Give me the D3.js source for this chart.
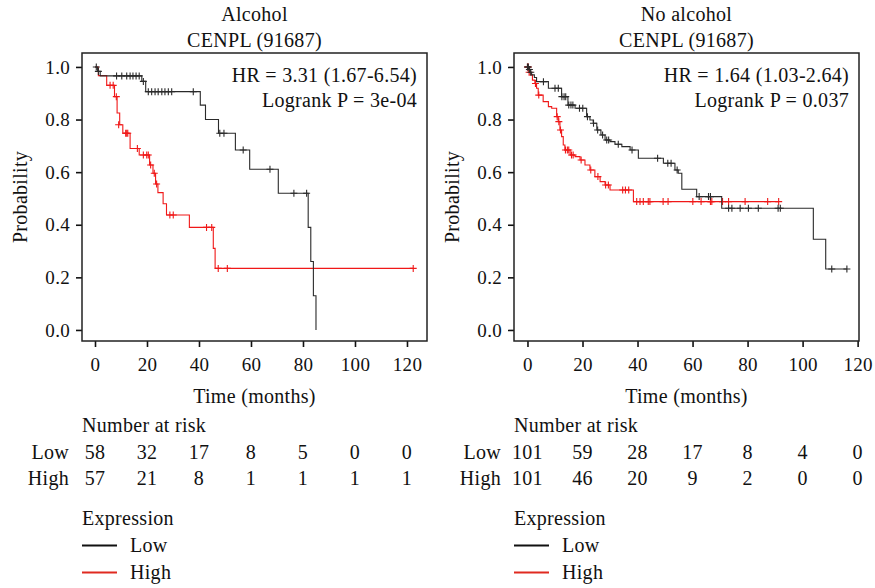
<!DOCTYPE html>
<html>
<head>
<meta charset="utf-8">
<script src="https://cdn.jsdelivr.net/npm/d3@7"></script>
<style>
  body { margin: 0; background: #fff; }
  svg text { font-family: "Liberation Serif", "DejaVu Serif", serif; fill: #111; letter-spacing: 0.3px; }
</style>
</head>
<body>
<div id="chart"></div>
<script>
// ---- data ----
let xTicks = [0, 20, 40, 60, 80, 100, 120];
let yTicks = [0, 0.2, 0.4, 0.6, 0.8, 1.0];

// Alcohol, low expression: [time, survival]
let alcLowSteps = [[0, 1], [1, 0.983], [2, 0.966], [18, 0.945], [19.5, 0.906], [40.5, 0.855], [42.5, 0.80],
    [47.5, 0.748], [54, 0.684], [59.5, 0.611], [70.5, 0.52], [82, 0.39], [83, 0.26], [84, 0.13], [85, 0]];
let alcLowCens = [[0.5, 1], [1.3, 0.983], [8.3, 0.966], [10.3, 0.966], [12.2, 0.966], [13.5, 0.966], [14.6, 0.966],
    [15.8, 0.966], [17, 0.966], [18.6, 0.945], [20.5, 0.906], [21.8, 0.906], [23.1, 0.906], [24.3, 0.906],
    [25.7, 0.906], [26.9, 0.906], [28.2, 0.906], [29.5, 0.906], [37.8, 0.906], [48, 0.748], [49.6, 0.748],
    [57, 0.684], [67.3, 0.611], [76.5, 0.52], [81.4, 0.52]];

// Alcohol, high expression
let alcHighSteps = [[0, 1], [1.3, 0.967], [4.5, 0.93], [7.5, 0.887], [8.5, 0.825], [9.5, 0.78], [10.7, 0.748],
    [13.5, 0.69], [17, 0.665], [21, 0.627], [22.3, 0.596], [23.3, 0.555], [24.2, 0.522], [26.2, 0.48],
    [27.5, 0.437], [36.3, 0.39], [45.5, 0.31], [46.2, 0.234], [122.4, 0.234]];
let alcHighCens = [[5.8, 0.93], [7, 0.93], [8.2, 0.887], [9.1, 0.78], [11.8, 0.748], [12.2, 0.748], [12.6, 0.748],
    [16.3, 0.69], [18.6, 0.665], [19.9, 0.665], [20.5, 0.665], [21.4, 0.627], [22.8, 0.596], [23.7, 0.555],
    [28.8, 0.437], [30.1, 0.437], [42.9, 0.39], [44.9, 0.39], [47.4, 0.234], [50.9, 0.234], [122.4, 0.234]];

// No alcohol, low expression
let noLowSteps = [[0, 1], [0.5, 0.99], [1, 0.98], [1.5, 0.97], [2.5, 0.96], [3.3, 0.944], [7.6, 0.919],
    [12.4, 0.887], [14.7, 0.855], [17.3, 0.843], [21.5, 0.811], [22.7, 0.798], [23.9, 0.786], [25.2, 0.76],
    [26.7, 0.741], [28.2, 0.722], [30, 0.716], [31.8, 0.706], [34.3, 0.697], [37.3, 0.684], [40.3, 0.653],
    [49.4, 0.634], [53.6, 0.608], [54.8, 0.596], [56.1, 0.535], [61.5, 0.507], [70.6, 0.463],
    [103.9, 0.345], [108.4, 0.232], [116.1, 0.232]];
let noLowCens = [[0, 1], [0.3, 1], [0.7, 0.99], [1.2, 0.98], [5.8, 0.944], [10, 0.919], [11.2, 0.919],
    [12.5, 0.887], [13.3, 0.887], [13.9, 0.887], [15, 0.855], [15.8, 0.855], [16.5, 0.855], [18.9, 0.843],
    [20.1, 0.843], [21.8, 0.811], [24, 0.786], [25.5, 0.76], [27.3, 0.741], [28.8, 0.722], [29.5, 0.722],
    [33, 0.706], [38, 0.684], [47.3, 0.653], [51, 0.634], [52.2, 0.634], [54.4, 0.608], [62.4, 0.507],
    [65.8, 0.507], [66.5, 0.507], [73.1, 0.463], [74.3, 0.463], [77.3, 0.463], [80.3, 0.463], [83.9, 0.463],
    [91.1, 0.463], [91.9, 0.463], [110.6, 0.232], [116.1, 0.232]];

// No alcohol, high expression
let noHighSteps = [[0, 1], [0.5, 0.98], [1, 0.97], [1.8, 0.95], [2.7, 0.937], [3.3, 0.919], [3.9, 0.893],
    [5.7, 0.868], [7.6, 0.849], [8.8, 0.843], [10.6, 0.811], [11.2, 0.792], [11.8, 0.76], [12.4, 0.735],
    [13, 0.703], [13.6, 0.684], [15.5, 0.665], [17.3, 0.659], [19.1, 0.646], [20.9, 0.627], [22.7, 0.608],
    [24.5, 0.583], [26.4, 0.564], [28.2, 0.551], [30, 0.532], [38.5, 0.488], [91.3, 0.488]];
let noHighCens = [[0, 1], [0.3, 1], [0.6, 0.98], [2.9, 0.937], [4.1, 0.893], [10.8, 0.811], [11.4, 0.792],
    [12, 0.76], [13.8, 0.684], [14.5, 0.684], [15, 0.684], [16, 0.665], [16.6, 0.665], [19.5, 0.646],
    [23, 0.608], [25.6, 0.583], [28.4, 0.551], [29.4, 0.551], [34.6, 0.532], [35.6, 0.532], [36.8, 0.532],
    [39.7, 0.488], [40.9, 0.488], [42.1, 0.488], [43.9, 0.488], [44.5, 0.488], [49.3, 0.488], [51.1, 0.488],
    [60.1, 0.488], [63.1, 0.488], [66.5, 0.488], [67, 0.488], [70.9, 0.488], [73.1, 0.488], [79.1, 0.488],
    [87.3, 0.488], [91.3, 0.488]];

let alcRiskLow = [58, 32, 17, 8, 5, 0, 0];
let alcRiskHigh = [57, 21, 8, 1, 1, 1, 1];
let noRiskLow = [101, 59, 28, 17, 8, 4, 0];
let noRiskHigh = [101, 46, 20, 9, 2, 0, 0];

let panels = [
    { title: "Alcohol", gene: "CENPL (91687)", hr: "HR = 3.31 (1.67-6.54)", p: "Logrank P = 3e-04",
      left: 82, right: 427, xDomain: [-5, 127.7],
      low: alcLowSteps, lowCens: alcLowCens, high: alcHighSteps, highCens: alcHighCens,
      riskLow: alcRiskLow, riskHigh: alcRiskHigh },
    { title: "No alcohol", gene: "CENPL (91687)", hr: "HR = 1.64 (1.03-2.64)", p: "Logrank P = 0.037",
      left: 514, right: 859, xDomain: [-4.9, 120.5],
      low: noLowSteps, lowCens: noLowCens, high: noHighSteps, highCens: noHighCens,
      riskLow: noRiskLow, riskHigh: noRiskHigh }
];

let lowColor = "#2a2a2a";
let highColor = "#f01818";
let fs = 20;

let svg = d3.select("#chart")
    .append("svg")
    .attr("width", 875)
    .attr("height", 588);

let plotTop = 53, plotBottom = 341;

panels.forEach(p => {
    let g = svg.append("g");

    let xScale = d3.scaleLinear().domain(p.xDomain).range([p.left, p.right]);
    let yScale = d3.scaleLinear().domain([-0.042, 1.053]).range([plotBottom, plotTop]);

    // titles
    g.append("text")
        .attr("x", (p.left + p.right) / 2).attr("y", 21)
        .attr("text-anchor", "middle").attr("font-size", fs)
        .text(p.title);
    g.append("text")
        .attr("x", (p.left + p.right) / 2).attr("y", 47)
        .attr("text-anchor", "middle").attr("font-size", fs)
        .text(p.gene);

    // axes
    let xAxis = d3.axisBottom(xScale).tickValues(xTicks).tickSize(6).tickPadding(11)
        .tickFormat(d3.format("d"));
    let yAxis = d3.axisLeft(yScale).tickValues(yTicks).tickSize(6).tickPadding(6)
        .tickFormat(d3.format(".1f"));

    let gx = g.append("g")
        .attr("transform", `translate(0, ${plotBottom})`)
        .call(xAxis);
    let gy = g.append("g")
        .attr("transform", `translate(${p.left}, 0)`)
        .call(yAxis);
    [gx, gy].forEach(a => {
        a.select(".domain").remove();
        a.selectAll(".tick line").attr("stroke", "#111").attr("stroke-width", 1.6);
        a.selectAll(".tick text").attr("font-size", 19)
            .attr("font-family", "Liberation Serif, serif").attr("fill", "#111");
    });

    // frame
    g.append("rect")
        .attr("x", p.left).attr("y", plotTop)
        .attr("width", p.right - p.left).attr("height", plotBottom - plotTop)
        .attr("fill", "none").attr("stroke", "#222").attr("stroke-width", 1.5);

    g.append("text")
        .attr("x", (p.left + p.right) / 2).attr("y", 403)
        .attr("text-anchor", "middle").attr("font-size", fs)
        .text("Time (months)");

    g.append("text")
        .attr("transform", `translate(${p.left - 55}, ${(plotTop + plotBottom) / 2}) rotate(-90)`)
        .attr("text-anchor", "middle").attr("font-size", fs)
        .text("Probability");

    // HR / logrank
    g.append("text")
        .attr("x", p.right - 10).attr("y", 81.5)
        .attr("text-anchor", "end").attr("font-size", fs)
        .text(p.hr);
    g.append("text")
        .attr("x", p.right - 10).attr("y", 106.5)
        .attr("text-anchor", "end").attr("font-size", fs)
        .text(p.p);

    // curves
    let line = d3.line()
        .x(d => xScale(d[0]))
        .y(d => yScale(d[1]))
        .curve(d3.curveStepAfter);

    let drawGroup = (steps, cens, color) => {
        g.append("path")
            .datum(steps)
            .attr("d", line)
            .attr("fill", "none")
            .attr("stroke", color)
            .attr("stroke-width", 1.1);
        g.append("g").selectAll("path")
            .data(cens)
            .enter()
            .append("path")
            .attr("d", d => {
                let x = xScale(d[0]), y = yScale(d[1]);
                return `M${x - 3.5},${y}H${x + 3.5}M${x},${y - 3.5}V${y + 3.5}`;
            })
            .attr("stroke", color)
            .attr("stroke-width", 1.1)
            .attr("fill", "none");
    };
    drawGroup(p.high, p.highCens, highColor);
    drawGroup(p.low, p.lowCens, lowColor);

    // number at risk table
    g.append("text")
        .attr("x", p.left).attr("y", 431.5)
        .attr("font-size", fs)
        .text("Number at risk");

    let rows = [["Low", p.riskLow, 458.5], ["High", p.riskHigh, 485]];
    rows.forEach(r => {
        g.append("text")
            .attr("x", p.left - 13).attr("y", r[2])
            .attr("text-anchor", "end").attr("font-size", fs)
            .text(r[0]);
        g.selectAll(null)
            .data(r[1])
            .enter()
            .append("text")
            .attr("x", (d, i) => xScale(xTicks[i]))
            .attr("y", r[2])
            .attr("text-anchor", "middle")
            .attr("font-size", fs)
            .text(d => d);
    });

    // legend
    g.append("text")
        .attr("x", p.left).attr("y", 525)
        .attr("font-size", fs)
        .text("Expression");
    let legend = [["Low", "#111", 545.5], ["High", "#e02a20", 572.5]];
    legend.forEach(l => {
        g.append("line")
            .attr("x1", p.left).attr("x2", p.left + 35)
            .attr("y1", l[2]).attr("y2", l[2])
            .attr("stroke", l[1]).attr("stroke-width", 2);
        g.append("text")
            .attr("x", p.left + 48).attr("y", l[2] + 6.5)
            .attr("font-size", fs)
            .text(l[0]);
    });
});
</script>
</body>
</html>
